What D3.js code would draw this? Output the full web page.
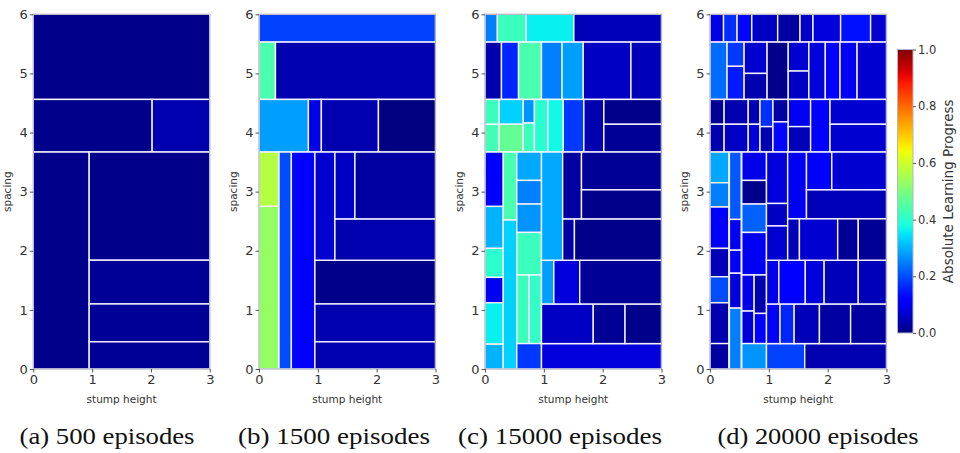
<!DOCTYPE html>
<html>
<head>
<meta charset="utf-8">
<script src="https://cdn.jsdelivr.net/npm/d3@7"></script>
<style>
  body { margin: 0; background: #fff; }
  svg { display: block; }
  .tick text { font-family: "DejaVu Sans", sans-serif; fill: #333; }
</style>
</head>
<body>
<svg id="chart" width="960" height="453"></svg>
<script>
// each cell: [x0, x1, y0, y1, absolute learning progress]
var cells500 = [
  [0, 3, 4.56, 6, 0.01],
  [0, 2.02, 3.67, 4.56, 0.01],
  [2.02, 3, 3.67, 4.56, 0.04],
  [0, 0.95, 0, 3.67, 0.01],
  [0.95, 3, 1.84, 3.67, 0.01],
  [0.95, 3, 1.10, 1.84, 0.02],
  [0.95, 3, 0.46, 1.10, 0.02],
  [0.95, 3, 0, 0.46, 0.02]
];

var cells1500 = [
  [0, 3, 5.53, 6, 0.19],
  [0, 0.28, 4.56, 5.53, 0.44],
  [0.28, 3, 4.56, 5.53, 0.04],
  [0, 0.84, 3.67, 4.56, 0.28],
  [0.84, 1.06, 3.67, 4.56, 0.09],
  [1.06, 2.03, 3.67, 4.56, 0.04],
  [2.03, 3, 3.67, 4.56, 0.0],
  [0, 0.34, 2.75, 3.67, 0.57],
  [0, 0.34, 0, 2.75, 0.53],
  [0.34, 0.55, 0, 3.67, 0.2],
  [0.55, 0.95, 0, 3.67, 0.11],
  [0.95, 3, 1.10, 1.84, 0.01],
  [0.95, 3, 0.46, 1.10, 0.04],
  [0.95, 3, 0, 0.46, 0.04],
  [0.95, 1.29, 1.84, 3.67, 0.07],
  [1.29, 3, 1.84, 2.54, 0.04],
  [1.29, 1.63, 2.54, 3.67, 0.06],
  [1.63, 3, 2.54, 3.67, 0.03]
];

var cells15000 = [
  [0, 0.21, 5.53, 6, 0.25],
  [0.21, 0.70, 5.53, 6, 0.42],
  [0.70, 1.51, 5.53, 6, 0.36],
  [1.51, 3, 5.53, 6, 0.05],
  [0, 0.28, 4.56, 5.53, 0.04],
  [0.28, 0.57, 4.56, 5.53, 0.16],
  [0.57, 0.96, 4.56, 5.53, 0.44],
  [0.96, 1.31, 4.56, 5.53, 0.25],
  [1.31, 1.67, 4.56, 5.53, 0.28],
  [1.67, 2.48, 4.56, 5.53, 0.06],
  [2.48, 3, 4.56, 5.53, 0.05],
  [0, 0.24, 4.14, 4.56, 0.42],
  [0, 0.24, 3.67, 4.14, 0.43],
  [0.24, 0.65, 4.14, 4.56, 0.33],
  [0.24, 0.65, 3.67, 4.14, 0.47],
  [0.65, 0.84, 4.16, 4.56, 0.27],
  [0.65, 0.84, 3.67, 4.16, 0.42],
  [0.84, 1.07, 3.67, 4.56, 0.40],
  [1.07, 1.33, 3.67, 4.56, 0.37],
  [1.33, 1.68, 3.67, 4.56, 0.18],
  [1.68, 2.02, 3.67, 4.56, 0.04],
  [2.02, 3, 4.14, 4.56, 0.01],
  [2.02, 3, 3.67, 4.14, 0.02],
  [0, 0.31, 2.75, 3.67, 0.11],
  [0, 0.31, 2.04, 2.75, 0.30],
  [0, 0.31, 1.55, 2.04, 0.40],
  [0, 0.31, 1.12, 1.55, 0.10],
  [0, 0.31, 0.42, 1.12, 0.36],
  [0, 0.31, 0, 0.42, 0.30],
  [0.31, 0.54, 2.52, 3.67, 0.44],
  [0.31, 0.54, 0, 2.52, 0.33],
  [0.54, 0.96, 3.19, 3.67, 0.29],
  [0.54, 0.96, 2.79, 3.19, 0.25],
  [0.54, 0.96, 2.31, 2.79, 0.27],
  [0.54, 0.96, 1.59, 2.31, 0.42],
  [0.54, 0.75, 0.43, 1.59, 0.42],
  [0.75, 0.96, 0.43, 1.59, 0.41],
  [0.54, 0.96, 0, 0.43, 0.18],
  [0.96, 3, 0, 0.43, 0.08],
  [0.96, 1.84, 0.43, 1.10, 0.06],
  [1.84, 2.38, 0.43, 1.10, 0.02],
  [2.38, 3, 0.43, 1.10, 0.01],
  [0.96, 1.17, 1.10, 1.84, 0.28],
  [1.17, 1.61, 1.10, 1.84, 0.08],
  [1.61, 3, 1.10, 1.84, 0.02],
  [0.96, 1.32, 1.84, 3.67, 0.29],
  [1.32, 1.52, 1.84, 2.54, 0.03],
  [1.52, 3, 1.84, 2.54, 0.01],
  [1.32, 1.64, 2.54, 3.67, 0.03],
  [1.64, 3, 3.03, 3.67, 0.02],
  [1.64, 3, 2.54, 3.03, 0.01]
];

var cells20000 = [
  [0, 0.23, 5.53, 6, 0.09],
  [0.23, 0.46, 5.53, 6, 0.17],
  [0.46, 0.71, 5.53, 6, 0.13],
  [0.71, 1.15, 5.53, 6, 0.06],
  [1.15, 1.53, 5.53, 6, 0.03],
  [1.53, 1.75, 5.53, 6, 0.06],
  [1.75, 2.22, 5.53, 6, 0.08],
  [2.22, 2.73, 5.53, 6, 0.14],
  [2.73, 3, 5.53, 6, 0.07],
  [0, 0.29, 4.56, 5.53, 0.23],
  [0.29, 0.58, 5.12, 5.53, 0.18],
  [0.29, 0.58, 4.56, 5.12, 0.15],
  [0.58, 0.97, 5.0, 5.53, 0.07],
  [0.58, 0.97, 4.56, 5.0, 0.04],
  [0.97, 1.33, 4.56, 5.53, 0.01],
  [1.33, 1.68, 5.04, 5.53, 0.07],
  [1.33, 1.68, 4.56, 5.04, 0.06],
  [1.68, 1.96, 4.56, 5.53, 0.08],
  [1.96, 2.21, 4.56, 5.53, 0.12],
  [2.21, 2.50, 4.56, 5.53, 0.10],
  [2.50, 3, 4.56, 5.53, 0.07],
  [0, 0.24, 4.14, 4.56, 0.02],
  [0, 0.24, 3.67, 4.14, 0.04],
  [0.24, 0.65, 4.14, 4.56, 0.04],
  [0.24, 0.65, 3.67, 4.14, 0.06],
  [0.65, 0.85, 4.14, 4.56, 0.05],
  [0.65, 0.85, 3.67, 4.14, 0.08],
  [0.85, 1.07, 4.10, 4.56, 0.17],
  [0.85, 1.07, 3.67, 4.10, 0.04],
  [1.07, 1.33, 4.18, 4.56, 0.03],
  [1.07, 1.33, 3.67, 4.18, 0.13],
  [1.33, 1.71, 4.10, 4.56, 0.10],
  [1.33, 1.71, 3.67, 4.10, 0.05],
  [1.71, 2.04, 3.67, 4.56, 0.11],
  [2.04, 3, 4.14, 4.56, 0.07],
  [2.04, 3, 3.67, 4.14, 0.07],
  [0, 0.32, 3.15, 3.67, 0.29],
  [0, 0.32, 2.74, 3.15, 0.25],
  [0, 0.32, 2.04, 2.74, 0.12],
  [0, 0.32, 1.56, 2.04, 0.05],
  [0, 0.32, 1.12, 1.56, 0.20],
  [0, 0.32, 0.43, 1.12, 0.04],
  [0, 0.32, 0, 0.43, 0.03],
  [0.33, 0.53, 2.53, 3.67, 0.21],
  [0.33, 0.53, 2.01, 2.53, 0.10],
  [0.33, 0.53, 1.62, 2.01, 0.12],
  [0.33, 0.53, 1.03, 1.62, 0.08],
  [0.33, 0.53, 0, 1.03, 0.25],
  [0.54, 0.96, 3.19, 3.67, 0.09],
  [0.54, 0.96, 2.79, 3.19, 0.01],
  [0.54, 0.96, 2.31, 2.79, 0.22],
  [0.54, 0.96, 1.59, 2.31, 0.10],
  [0.54, 0.75, 0.98, 1.59, 0.09],
  [0.54, 0.75, 0.43, 0.98, 0.08],
  [0.75, 0.96, 0.94, 1.59, 0.04],
  [0.75, 0.96, 0.43, 0.94, 0.11],
  [0.54, 0.96, 0, 0.43, 0.27],
  [0.96, 1.61, 0, 0.43, 0.19],
  [1.61, 3, 0, 0.43, 0.04],
  [0.96, 1.19, 0.43, 1.10, 0.12],
  [1.19, 1.43, 0.43, 1.10, 0.16],
  [1.43, 1.86, 0.43, 1.10, 0.05],
  [1.86, 2.39, 0.43, 1.10, 0.03],
  [2.39, 3, 0.43, 1.10, 0.03],
  [0.96, 1.17, 1.10, 1.84, 0.09],
  [1.17, 1.62, 1.10, 1.84, 0.11],
  [1.62, 1.94, 1.10, 1.84, 0.08],
  [1.94, 2.52, 1.10, 1.84, 0.05],
  [2.52, 3, 1.10, 1.84, 0.05],
  [0.96, 1.32, 2.80, 3.67, 0.08],
  [0.96, 1.32, 2.42, 2.80, 0.06],
  [0.96, 1.32, 1.84, 2.42, 0.07],
  [1.32, 1.64, 2.54, 3.67, 0.10],
  [1.64, 2.07, 3.03, 3.67, 0.12],
  [2.07, 3, 3.03, 3.67, 0.07],
  [1.64, 3, 2.54, 3.03, 0.05],
  [1.32, 1.52, 1.84, 2.54, 0.05],
  [1.52, 2.17, 1.84, 2.54, 0.07],
  [2.17, 2.52, 1.84, 2.54, 0.02],
  [2.52, 3, 1.84, 2.54, 0.02]
];

var panels = [cells500, cells1500, cells15000, cells20000];
var captions = ["(a) 500 episodes", "(b) 1500 episodes", "(c) 15000 episodes", "(d) 20000 episodes"];
var xTicks = [0, 1, 2, 3];
var yTicks = [0, 1, 2, 3, 4, 5, 6];
var cbTicks = [0, 0.2, 0.4, 0.6, 0.8, 1.0];

// matplotlib "jet"
var jr = d3.scaleLinear().domain([0, 0.35, 0.66, 0.89, 1]).range([0, 0, 1, 1, 0.5]).clamp(true);
var jg = d3.scaleLinear().domain([0, 0.125, 0.375, 0.64, 0.91, 1]).range([0, 0, 1, 1, 0, 0]).clamp(true);
var jb = d3.scaleLinear().domain([0, 0.11, 0.34, 0.65, 1]).range([0.5, 1, 1, 0, 0]).clamp(true);
function jet(v) {
  return d3.rgb(jr(v) * 255, jg(v) * 255, jb(v) * 255).formatHex();
}

var svg = d3.select("#chart");
var panelLeft = [33.3, 259, 485, 710];
var pw = 176.5, plotTop = 14.3, plotBottom = 369;
var spine = "#b4b4c4";

var y = d3.scaleLinear().domain([0, 6]).range([plotBottom, plotTop]);

panels.forEach(function(cells, i) {
  var x = d3.scaleLinear().domain([0, 3]).range([panelLeft[i], panelLeft[i] + pw]);
  var g = svg.append("g");

  g.selectAll("rect.cell").data(cells).enter().append("rect")
    .attr("class", "cell")
    .attr("x", function(d) { return x(d[0]); })
    .attr("y", function(d) { return y(d[3]); })
    .attr("width", function(d) { return x(d[1]) - x(d[0]); })
    .attr("height", function(d) { return y(d[2]) - y(d[3]); })
    .style("fill", function(d) { return jet(d[4]); })
    .style("stroke", "#f4f4ff")
    .style("stroke-width", 1.4);

  g.append("rect")
    .attr("x", x(0)).attr("y", y(6))
    .attr("width", pw).attr("height", plotBottom - plotTop)
    .style("fill", "none").style("stroke", spine).style("stroke-width", 1.2);

  var xa = g.append("g").attr("transform", "translate(0," + plotBottom + ")")
    .call(d3.axisBottom(x).tickValues(xTicks).tickSize(3.5).tickPadding(2).tickFormat(d3.format("d")));
  var ya = g.append("g").attr("transform", "translate(" + x(0) + ",0)")
    .call(d3.axisLeft(y).tickValues(yTicks).tickSize(3.5).tickPadding(2).tickFormat(d3.format("d")));
  [xa, ya].forEach(function(a) {
    a.select(".domain").remove();
    a.selectAll(".tick line").style("stroke", "#555");
    a.selectAll(".tick text").style("font-size", "13px");
  });

  g.append("text")
    .attr("x", x(1.5)).attr("y", 403)
    .attr("text-anchor", "middle")
    .style("font-family", "'DejaVu Sans', sans-serif").style("font-size", "10.5px").style("fill", "#333")
    .text("stump height");
  g.append("text")
    .attr("transform", "translate(" + (x(0) - 22) + "," + y(3) + ") rotate(-90)")
    .attr("text-anchor", "middle")
    .style("font-family", "'DejaVu Sans', sans-serif").style("font-size", "10.5px").style("fill", "#333")
    .text("spacing");

  svg.append("text")
    .attr("x", [107, 334, 560, 818][i]).attr("y", 444)
    .attr("text-anchor", "middle")
    .attr("textLength", [175, 192, 204, 201][i]).attr("lengthAdjust", "spacingAndGlyphs")
    .style("font-family", "'Liberation Serif', 'Times New Roman', serif").style("font-size", "23px").style("fill", "#111")
    .text(captions[i]);
});

// colour bar
var cb = d3.scaleLinear().domain([0, 1]).range([333, 49.5]);
var grad = svg.append("defs").append("linearGradient")
  .attr("id", "jet").attr("x1", 0).attr("y1", 1).attr("x2", 0).attr("y2", 0);
grad.selectAll("stop").data(d3.range(0, 1.0001, 0.02)).enter().append("stop")
  .attr("offset", function(d) { return d; })
  .attr("stop-color", function(d) { return jet(d); });

svg.append("rect")
  .attr("x", 897.5).attr("y", cb(1)).attr("width", 15.5).attr("height", cb(0) - cb(1))
  .style("fill", "url(#jet)").style("stroke", spine).style("stroke-width", 1);

var cba = svg.append("g").attr("transform", "translate(913,0)")
  .call(d3.axisRight(cb).tickValues(cbTicks).tickSize(3).tickPadding(2).tickFormat(d3.format(".1f")));
cba.select(".domain").remove();
cba.selectAll(".tick line").style("stroke", "#555");
cba.selectAll(".tick text").style("font-size", "11.5px");

svg.append("text")
  .attr("transform", "translate(953," + cb(0.5) + ") rotate(-90)")
  .attr("text-anchor", "middle")
  .style("font-family", "'DejaVu Sans', sans-serif").style("font-size", "13.5px").style("fill", "#333")
  .text("Absolute Learning Progress");
</script>
</body>
</html>
